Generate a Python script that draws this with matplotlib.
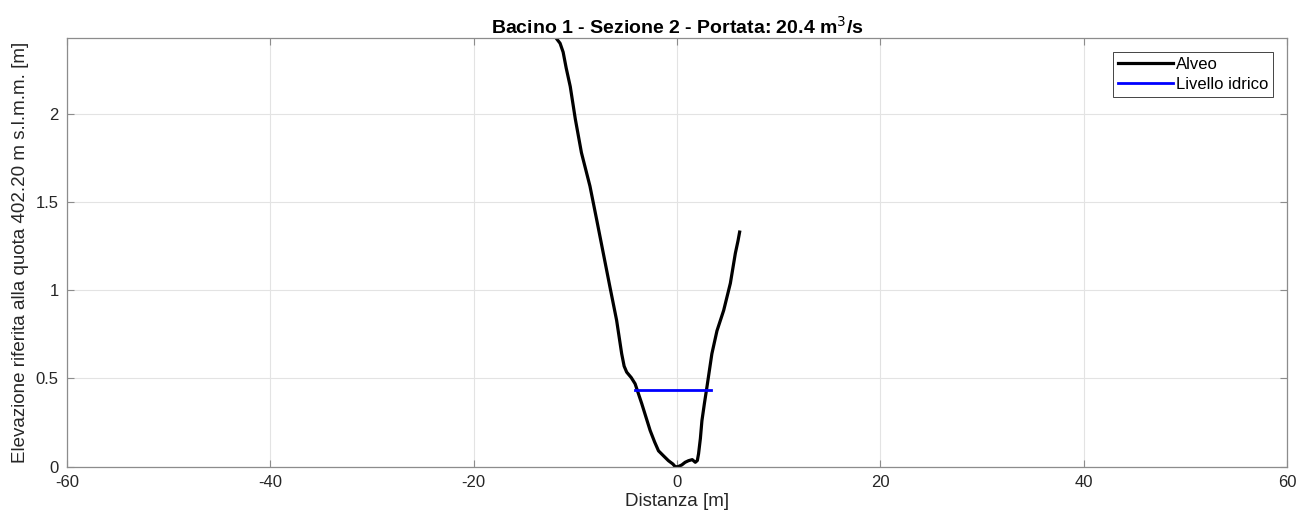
import matplotlib
matplotlib.use('Agg')
import matplotlib.pyplot as plt

# sezione trasversale dell'alveo (distanza [m], elevazione [m])
dist = [-11.9, -11.5, -11.2, -10.9, -10.5, -10.0, -9.4, -8.56, -7.9, -7.25,
        -6.6, -5.94, -5.44, -5.2, -4.95, -4.5, -4.12, -3.47, -2.64, -2.2,
        -1.82, -1.3, -0.84, -0.4, -0.18, 0.1, 0.47, 0.8, 1.13, 1.5,
        1.8, 2.0, 2.12, 2.3, 2.45, 2.7, 2.94, 3.43, 3.93, 4.59,
        5.25, 5.74, 6.0, 6.16]
elev = [2.43, 2.40, 2.35, 2.26, 2.155, 1.97, 1.78, 1.59, 1.40, 1.21,
        1.02, 0.83, 0.64, 0.57, 0.536, 0.505, 0.47, 0.358, 0.205, 0.14,
        0.09, 0.06, 0.034, 0.015, 0.0, 0.0, 0.01, 0.025, 0.034, 0.04,
        0.025, 0.035, 0.073, 0.16, 0.26, 0.36, 0.45, 0.64, 0.77, 0.886,
        1.04, 1.21, 1.28, 1.33]

livello_x = [-4.1, 3.3]
livello = 0.436

xticks = [-60, -40, -20, 0, 20, 40, 60]
yticks = [0, 0.5, 1, 1.5, 2]

plt.rcParams['font.family'] = ['Liberation Sans', 'DejaVu Sans']

fig = plt.figure(figsize=(12.99, 5.19), dpi=100)
# assi: sinistra 67 px, destra 1287 px, alto 38 px, basso 466.7 px
ax = fig.add_axes([67 / 1299, 1 - 466.7 / 519, 1220 / 1299, 428.7 / 519])

ax.plot(dist, elev, color='black', lw=2.3, label='Alveo',
        solid_joinstyle='round')
ax.plot(livello_x, [livello, livello], color=(0, 0, 1), lw=2, label='Livello idrico')

ax.set_xlim(-60, 60)
ax.set_ylim(0, 2.43)
ax.set_xticks(xticks)
ax.set_xticklabels([str(t) for t in xticks])
ax.set_yticks(yticks)
ax.set_yticklabels(['0', '0.5', '1', '1.5', '2'])
ax.grid(True, color='#e3e3e3', lw=0.8)
ax.set_axisbelow(True)
ax.tick_params(direction='in', length=5, labelsize=12, colors='#262626',
               top=True, right=True, pad=6)
ax.tick_params(axis='both', color='#8c8c8c')
for s in ax.spines.values():
    s.set_color('#8c8c8c')
    s.set_linewidth(0.9)

ax.set_title('Bacino 1 - Sezione 2 - Portata: 20.4 m$^3$/s',
             fontsize=14, fontweight='bold', pad=3)
ax.set_xlabel('Distanza [m]', fontsize=13.5, labelpad=2, color='#262626')
ax.set_ylabel('Elevazione riferita alla quota 402.20 m s.l.m.m. [m]',
              fontsize=13.5, labelpad=5, color='#262626')

leg = ax.legend(loc='upper right', fontsize=12, fancybox=False, framealpha=1,
                edgecolor='#262626', borderpad=0.3, handlelength=3.3,
                handletextpad=0.15, labelspacing=0.3, borderaxespad=0,
                bbox_to_anchor=(0.9885, 0.967))
leg.get_frame().set_linewidth(0.6)

fig.savefig('out.png', dpi=100)
plt.close(fig)
